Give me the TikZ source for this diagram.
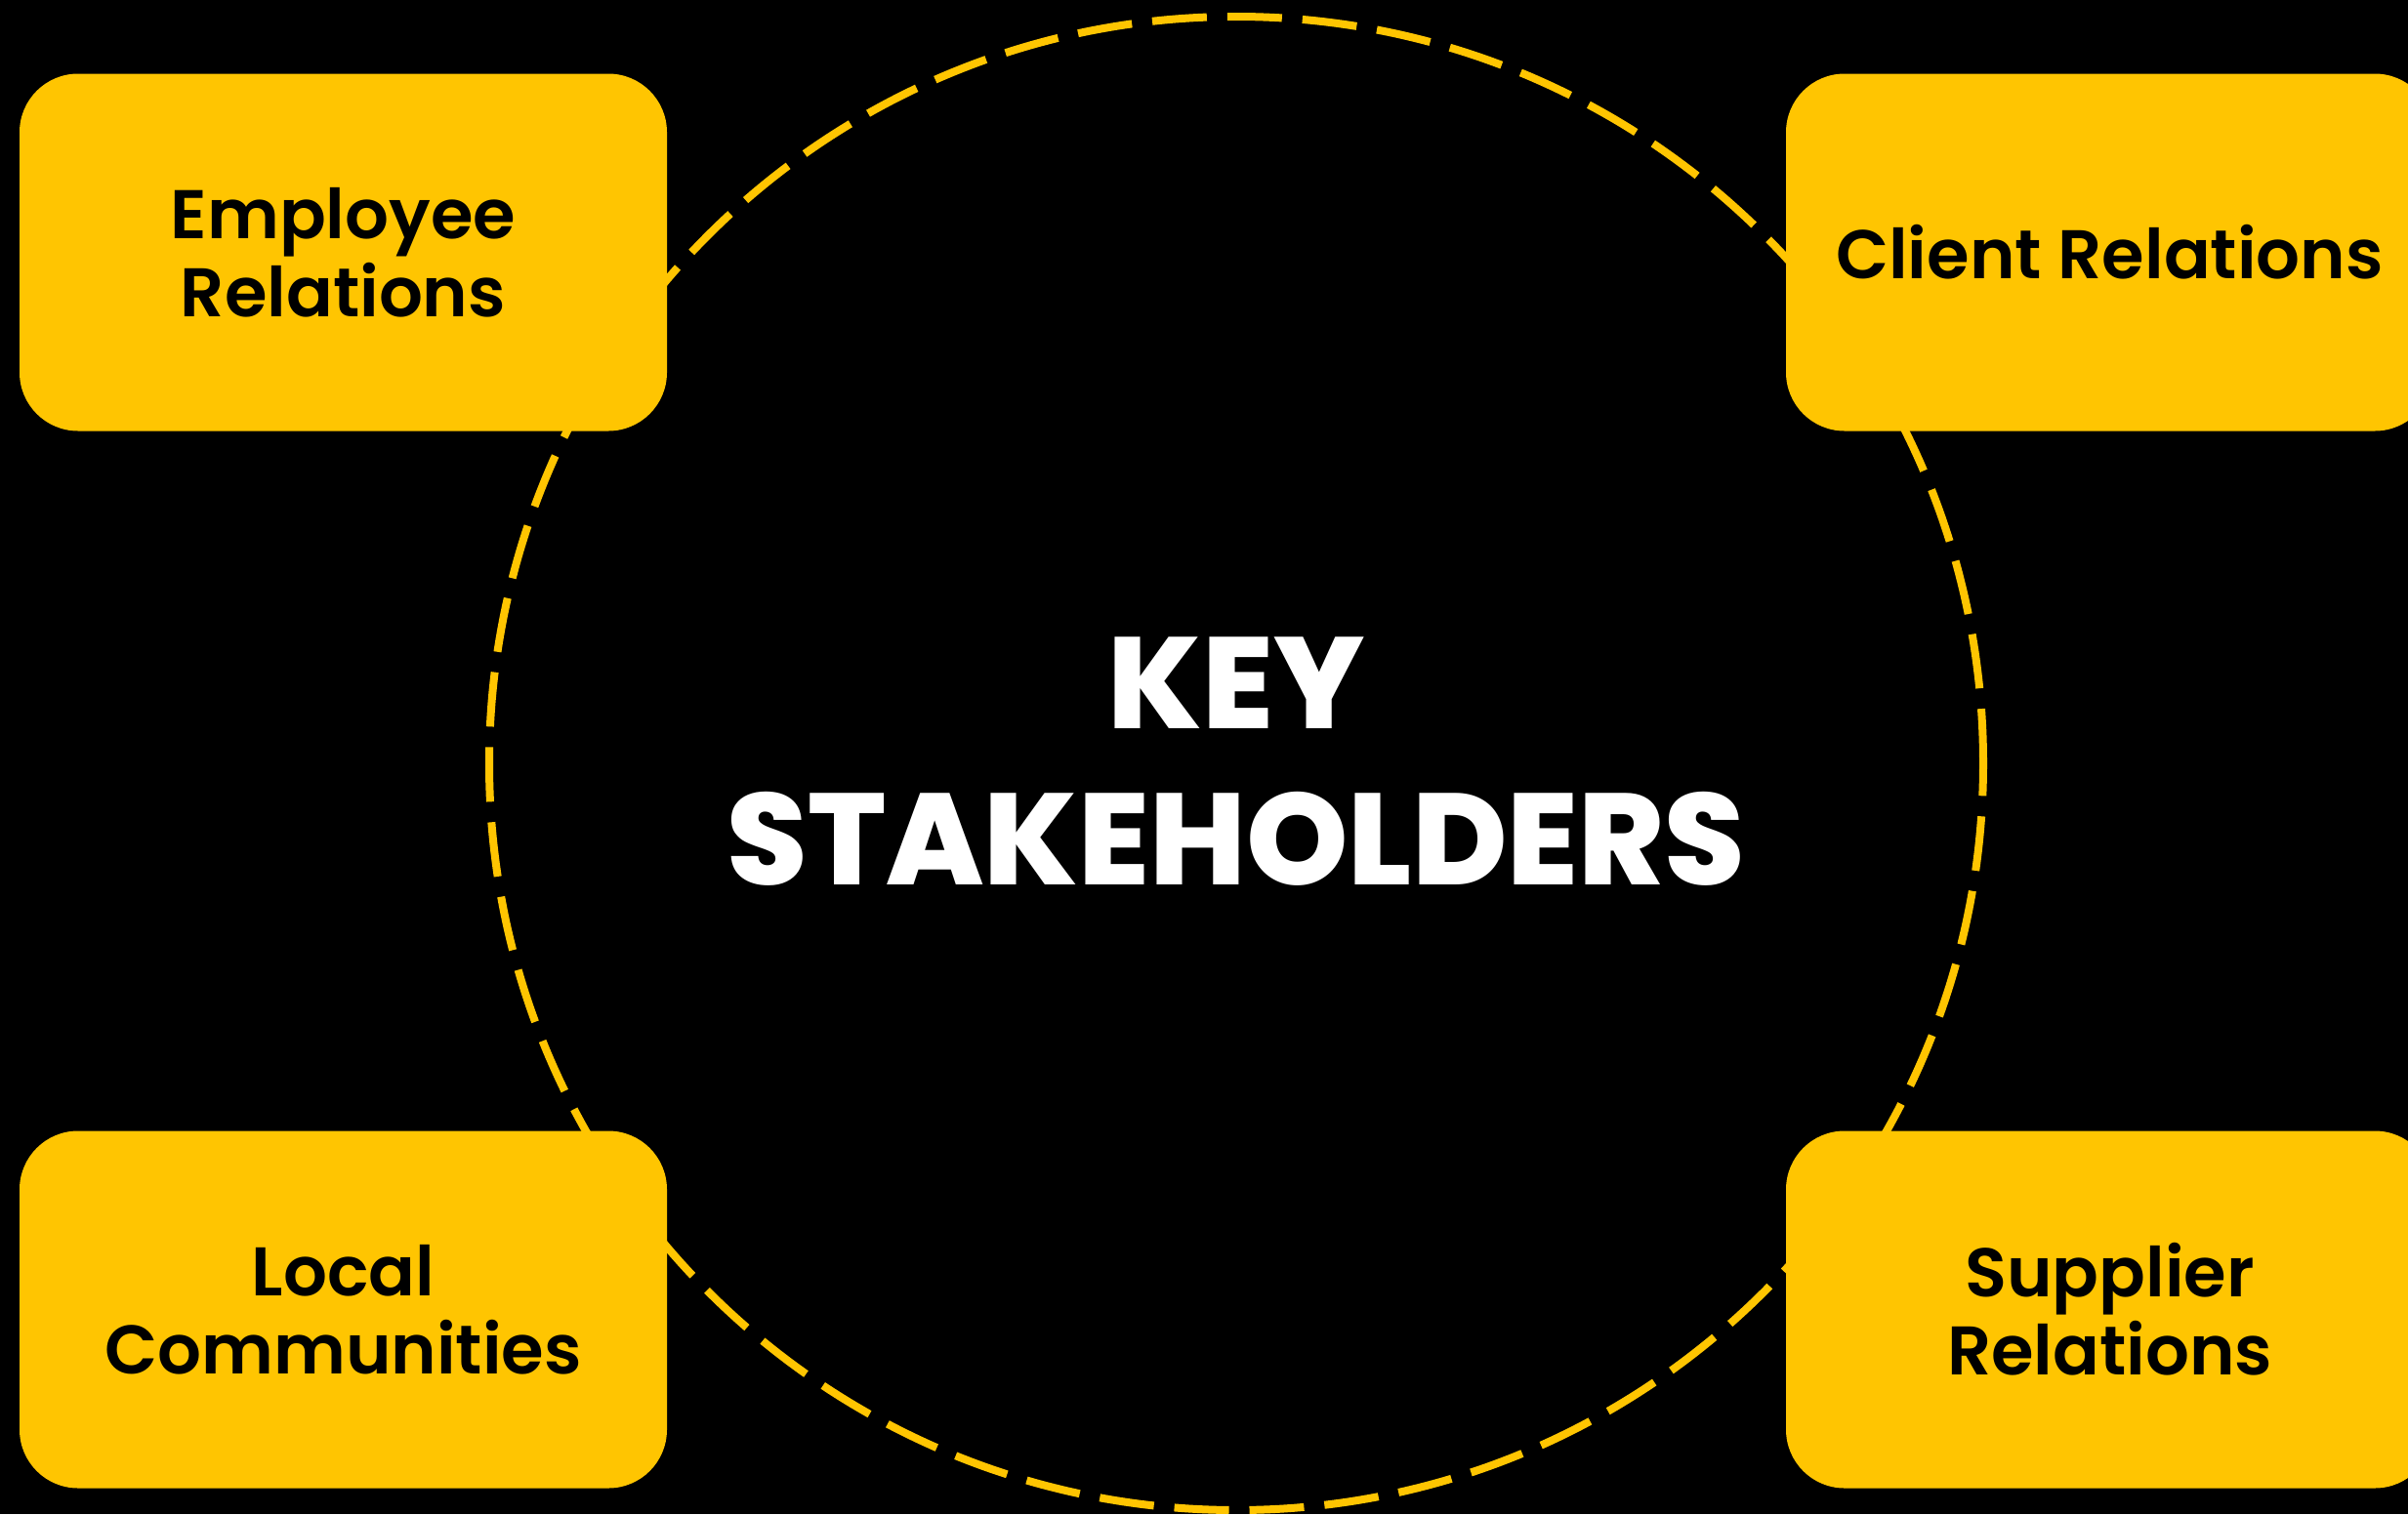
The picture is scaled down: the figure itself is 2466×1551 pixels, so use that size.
\documentclass[tikz,border=0pt]{standalone}
\usepackage{fontspec}
\setmainfont{Poppins}
\newfontfamily\cardfont{Poppins SemiBold}
\newfontfamily\titlefont{Poppins ExtraBold}
\definecolor{gold}{HTML}{FFC501}
\begin{document}
\begin{tikzpicture}[x=1pt,y=-1pt,
  card/.style={fill=gold, rounded corners=60pt, minimum width=663pt,
    minimum height=366pt, inner sep=0pt, align=center, text=black,
    font=\cardfont\fontsize{70.5}{80}\selectfont},
  ring/.style={circle, draw=gold, line width=8pt, inner sep=0pt,
    minimum size=1530pt, dash pattern=on 56pt off 21pt},
  title/.style={text=white, align=center,
    font=\titlefont\fontsize{133}{160}\selectfont}]
\fill[black] (0,0) rectangle (2466,1551);
\useasboundingbox (0,0) rectangle (2466,1551);
\clip (0,0) rectangle (2466,1551);

% dashed ring behind the four cards
\node[ring] (ring) at (1266,782) {};

% stakeholder cards
\node[card] (emp) at (351.5,258.5) {Employee\\Relations};
\node[card] (cli) at (2160.5,258.5) {Client Relations};
\node[card] (loc) at (351.5,1341.5) {Local\\Communities};
\node[card] (sup) at (2160.5,1341.5) {Supplier\\Relations};

% centre title
\node[title] (key) at (1266,780) {KEY\\STAKEHOLDERS};
\end{tikzpicture}
\end{document}
